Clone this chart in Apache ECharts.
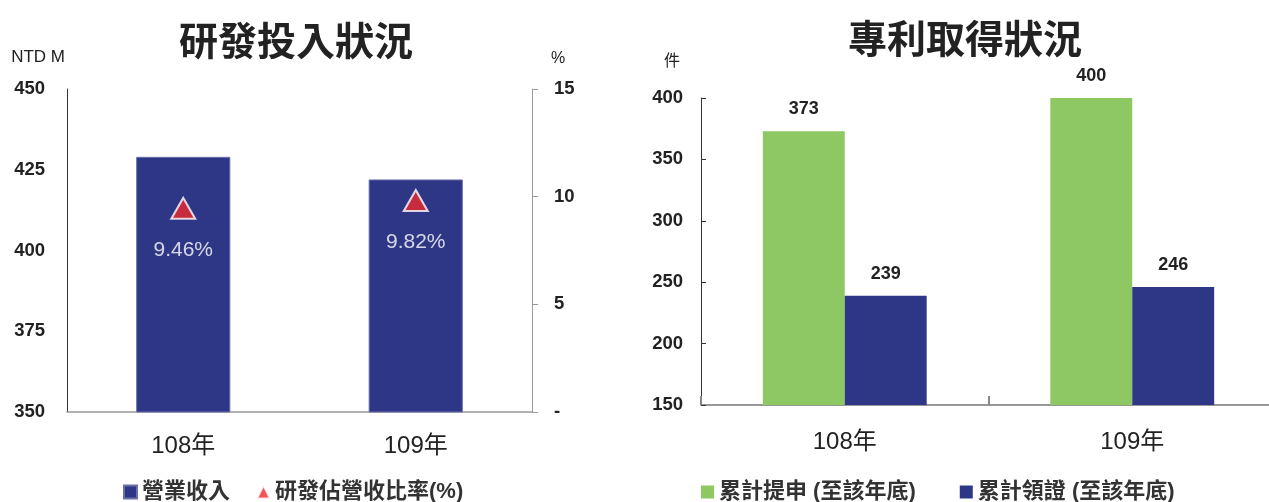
<!DOCTYPE html>
<html>
<head>
<meta charset="utf-8">
<script src="https://cdn.jsdelivr.net/npm/echarts@6/dist/echarts.min.js"></script>
<style>
html,body{margin:0;padding:0;background:#fff;}
#c{width:1269px;height:502px;}
</style>
</head>
<body>
<div id="c"></div>
<script>
var years = ['108年', '109年'];
var revenue = [429, 422];
var rdRatio = [9.46, 9.82];
var patentApplied = [373, 400];
var patentGranted = [239, 246];

var leftTitle = '研發投入狀況';
var rightTitle = '專利取得狀況';
var revenueName = '營業收入';
var ratioName = '研發佔營收比率(%)';
var appliedName = '累計提申 (至該年底)';
var grantedName = '累計領證 (至該年底)';

var FF = "'Liberation Sans', 'Noto Sans CJK TC', sans-serif";
var NAVY = '#2e3686';
var GREEN = '#8ec863';
var RED = '#ee2a2c';
var TXT = '#222';

var chart = echarts.init(document.getElementById('c'), null, {renderer: 'canvas'});
chart.setOption({
  animation: false,
  backgroundColor: '#fff',
  textStyle: {fontFamily: FF},
  title: [
    {text: leftTitle, left: 291, top: 16, textAlign: 'center',
     textStyle: {fontSize: 39, fontWeight: 'bold', color: TXT, fontFamily: "'Noto Sans CJK TC', sans-serif"}},
    {text: rightTitle, left: 960, top: 14, textAlign: 'center',
     textStyle: {fontSize: 39, fontWeight: 'bold', color: TXT, fontFamily: "'Noto Sans CJK TC', sans-serif"}}
  ],
  legend: [
    {data: [{name: revenueName, icon: 'rect'}, {name: ratioName, icon: 'triangle'}],
     left: 118, top: 476, itemWidth: 13, itemHeight: 13, itemGap: 26,
     textStyle: {fontSize: 22, fontWeight: 'bold', color: '#333', fontFamily: FF}},
    {data: [{name: appliedName, icon: 'rect'}, {name: grantedName, icon: 'rect'}],
     left: 696, top: 476, itemWidth: 13, itemHeight: 13, itemGap: 44,
     textStyle: {fontSize: 22, fontWeight: 'bold', color: '#333', fontFamily: FF}}
  ],
  grid: [
    {left: 67, top: 89, width: 465, height: 323, outerBoundsMode: 'none'},
    {left: 701, top: 98, width: 575, height: 307, outerBoundsMode: 'none'}
  ],
  xAxis: [
    {type: 'category', gridIndex: 0, data: years,
     axisLine: {show: true, lineStyle: {color: '#999', width: 1.5}},
     axisTick: {show: false},
     axisLabel: {fontSize: 24, color: TXT, margin: 22, fontFamily: FF}},
    {type: 'category', gridIndex: 1, data: years,
     axisLine: {show: true, lineStyle: {color: '#777', width: 1.5}},
     axisTick: {show: true, inside: true, length: 9, lineStyle: {color: '#888', width: 2}},
     axisLabel: {fontSize: 24, color: TXT, margin: 25, fontFamily: FF}}
  ],
  yAxis: [
    {type: 'value', gridIndex: 0, min: 350, max: 450, interval: 25, position: 'left',
     name: 'NTD M', nameLocation: 'end', nameGap: 23,
     nameTextStyle: {fontSize: 17, color: TXT, align: 'right', padding: [0, 2, 0, 0], fontFamily: FF},
     axisLine: {show: true, lineStyle: {color: '#333', width: 1}},
     axisTick: {show: false}, splitLine: {show: false},
     axisLabel: {fontSize: 18.5, fontWeight: 'bold', color: TXT, margin: 22, fontFamily: FF}},
    {type: 'value', gridIndex: 0, min: 0, max: 15, interval: 5, position: 'right',
     name: '%', nameLocation: 'end', nameGap: 22,
     nameTextStyle: {fontSize: 16, color: TXT, align: 'left', padding: [0, 0, 0, 19], fontFamily: FF},
     axisLine: {show: true, lineStyle: {color: '#999', width: 1}},
     axisTick: {show: true, inside: false, length: 6, lineStyle: {color: '#999'}},
     splitLine: {show: false},
     axisLabel: {fontSize: 18.5, fontWeight: 'bold', color: TXT, margin: 22, fontFamily: FF,
       formatter: function (v) { return v === 0 ? '-' : String(v); }}},
    {type: 'value', gridIndex: 1, min: 150, max: 400, interval: 50, position: 'left',
     name: '件', nameLocation: 'end', nameGap: 28,
     nameTextStyle: {fontSize: 16, color: TXT, align: 'right', padding: [0, 21, 0, 0], fontFamily: FF},
     axisLine: {show: true, lineStyle: {color: '#333', width: 1}},
     axisTick: {show: true, inside: true, length: 5, lineStyle: {color: '#333'}},
     splitLine: {show: false},
     axisLabel: {fontSize: 18.5, fontWeight: 'bold', color: TXT, margin: 18, fontFamily: FF}}
  ],
  series: [
    {name: revenueName, type: 'bar', xAxisIndex: 0, yAxisIndex: 0, data: revenue,
     barWidth: '40.5%', itemStyle: {color: NAVY, borderColor: '#6a70aa', borderWidth: 1}},
    {name: ratioName, type: 'scatter', xAxisIndex: 0, yAxisIndex: 1, data: rdRatio,
     symbol: 'triangle', symbolSize: [24, 21], z: 5,
     itemStyle: {color: RED, borderColor: '#fff', borderWidth: 2},
     label: {show: true, position: 'bottom', distance: 20, color: '#fff', fontSize: 21,
       fontFamily: FF, formatter: function (p) { return p.value.toFixed(2) + '%'; }}},
    {name: appliedName, type: 'bar', xAxisIndex: 1, yAxisIndex: 2, data: patentApplied,
     barGap: '0%', barCategoryGap: '43%', itemStyle: {color: GREEN},
     label: {show: true, position: 'top', distance: 13, fontSize: 18, fontWeight: 'bold', color: TXT, fontFamily: FF}},
    {name: grantedName, type: 'bar', xAxisIndex: 1, yAxisIndex: 2, data: patentGranted,
     barGap: '0%', barCategoryGap: '43%', itemStyle: {color: NAVY},
     label: {show: true, position: 'top', distance: 13, fontSize: 18, fontWeight: 'bold', color: TXT, fontFamily: FF}}
  ]
});
</script>
</body>
</html>
